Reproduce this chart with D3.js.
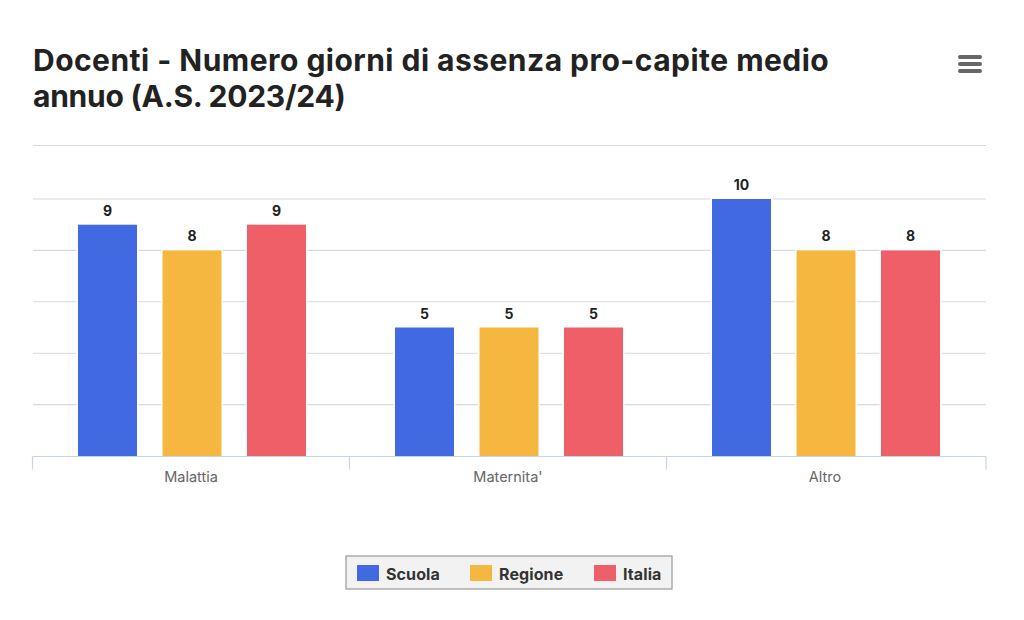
<!DOCTYPE html>
<html><head><meta charset="utf-8">
<script src="https://cdn.jsdelivr.net/npm/d3@7/dist/d3.min.js"></script>
<style>html,body{margin:0;padding:0;background:#fff}svg{display:block}text{font-family:Inter,"Noto Sans",sans-serif}</style>
</head><body><svg id="c" width="1024" height="620"></svg>
<script>
const categories = ["Malattia", "Maternita'", "Altro"];
const seriesNames = ["Scuola", "Regione", "Italia"];
const scuola = [9, 5, 10];
const regione = [8, 5, 8];
const italia = [9, 5, 8];
const colors = ["#4169e1", "#f5b740", "#ee5f68"];
const titleLines = ["Docenti - Numero giorni di assenza pro-capite medio", "annuo (A.S. 2023/24)"];
const yTicks = [0, 2, 4, 6, 8, 10, 12];
const seriesValues = [scuola, regione, italia];

const svg = d3.select("#c");
const x = d3.scaleBand().domain(categories).range([32.5, 983.5]).padding(0);
const inner = d3.scaleBand().domain(seriesNames).range([45.5, 273.5]).paddingInner(0.302).paddingOuter(0);
const y = d3.scaleLinear().domain([0, 10, 12]).range([456, 199, 145.5]);

const titleSpacing = [0.47, -0.25];
svg.append("g").selectAll("text").data(titleLines).join("text")
  .attr("x", 33).attr("y", (d, i) => 71 + i * 36)
  .attr("font-size", 30).attr("font-weight", 700).attr("fill", "#222")
  .attr("letter-spacing", (d, i) => titleSpacing[i]).text(d => d);

svg.append("g").selectAll("line").data(yTicks.slice(1)).join("line")
  .attr("x1", 33).attr("x2", 986).attr("y1", d => y(d)).attr("y2", d => y(d))
  .attr("stroke", "#d5d9df").attr("stroke-width", 1.1);

const groups = svg.append("g").selectAll("g").data(categories).join("g")
  .attr("transform", d => `translate(${x(d)},0)`);
seriesNames.forEach((s, si) => {
  groups.append("rect")
    .attr("x", inner(s)).attr("width", inner.bandwidth())
    .attr("y", (d, i) => y(seriesValues[si][i]))
    .attr("height", (d, i) => y(0) - y(seriesValues[si][i]))
    .attr("fill", colors[si]).attr("stroke", "#fff").attr("stroke-width", 3).attr("paint-order", "stroke");
  groups.append("text")
    .attr("x", inner(s) + inner.bandwidth() / 2)
    .attr("y", (d, i) => y(seriesValues[si][i]) - 9)
    .attr("text-anchor", "middle").attr("font-size", 14).attr("font-weight", 700).attr("fill", "#222")
    .text((d, i) => seriesValues[si][i]);
});

const axis = svg.append("g").attr("transform", "translate(0,456.5)")
  .call(d3.axisBottom(x).tickSize(0).tickPadding(15));
axis.select(".domain").remove();
axis.append("line").attr("x1", 32.5).attr("x2", 986).attr("stroke", "#c6d5ea").attr("stroke-width", 1.2);
axis.selectAll(".tick text").attr("font-size", 14.5).attr("font-family", "Inter,sans-serif").attr("fill", "#666");
axis.append("g").selectAll("line").data([...categories.map(c => x(c)), 986]).join("line")
  .attr("x1", d => d).attr("x2", d => d).attr("y1", 0).attr("y2", 13)
  .attr("stroke", "#c6d5ea").attr("stroke-width", 1.2);

const menu = svg.append("g");
[58, 65, 72].forEach(yy => menu.append("line")
  .attr("x1", 960).attr("x2", 980).attr("y1", yy - 1).attr("y2", yy - 1)
  .attr("stroke", "#666").attr("stroke-width", 4).attr("stroke-linecap", "round"));

const legend = svg.append("g");
legend.append("rect").attr("x", 346).attr("y", 556).attr("width", 326).attr("height", 33)
  .attr("fill", "#f2f2f2").attr("stroke", "#999").attr("stroke-width", 1.2);
const legendSwatch = [357, 470, 594];
seriesNames.forEach((s, i) => {
  legend.append("rect").attr("x", legendSwatch[i]).attr("y", 565).attr("width", 22).attr("height", 16).attr("fill", colors[i]);
  legend.append("text").attr("x", legendSwatch[i] + 29).attr("y", 580)
    .attr("font-size", 16).attr("font-weight", 700).attr("fill", "#333").attr("letter-spacing", 0.1).text(s);
});
</script></body></html>
